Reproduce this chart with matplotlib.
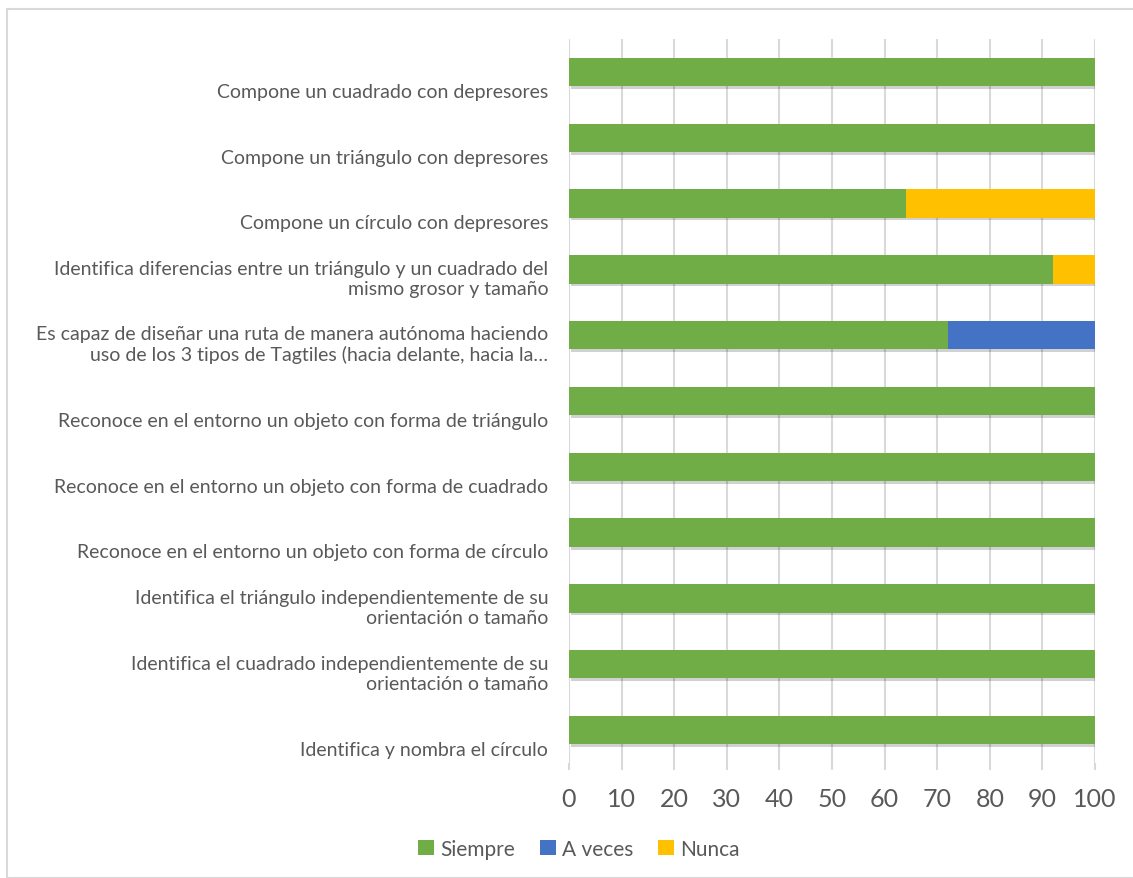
import numpy as np
import matplotlib
import matplotlib.pyplot as plt
from matplotlib import patheffects as pe
from matplotlib.patches import Rectangle

matplotlib.rcParams['font.family'] = ['Lato', 'DejaVu Sans']

categories = [
    "Compone un cuadrado con depresores",
    "Compone un triángulo con depresores",
    "Compone un círculo con depresores",
    "Identifica diferencias entre un triángulo y un cuadrado del\nmismo grosor y tamaño",
    "Es capaz de diseñar una ruta de manera autónoma haciendo\nuso de los 3 tipos de Tagtiles (hacia delante, hacia la…",
    "Reconoce en el entorno un objeto con forma de triángulo",
    "Reconoce en el entorno un objeto con forma de cuadrado",
    "Reconoce en el entorno un objeto con forma de círculo",
    "Identifica el triángulo independientemente de su\norientación o tamaño",
    "Identifica el cuadrado independientemente de su\norientación o tamaño",
    "Identifica y nombra el círculo",
]
siempre = [100, 100, 64, 92, 72, 100, 100, 100, 100, 100, 100]
a_veces = [0, 0, 0, 0, 28, 0, 0, 0, 0, 0, 0]
nunca = [0, 0, 36, 8, 0, 0, 0, 0, 0, 0, 0]
xticks = list(range(0, 101, 10))

text_col = '#595959'
grid_col = '#D9D9D9'

fig = plt.figure(figsize=(11.33, 8.79), dpi=100)
fig.patches.append(Rectangle((7/1133, 0), 1, 1 - 10/879, transform=fig.transFigure,
                             facecolor='none', edgecolor=grid_col, linewidth=1.5))
ax = fig.add_axes([569/1133, 1 - 764/879, (1095-569)/1133, (764-40)/879])

y = np.arange(len(categories))
shadow = [pe.SimplePatchShadow(offset=(1.5, -2), shadow_rgbFace='#000000', alpha=0.18), pe.Normal()]
h = 0.43
ax.barh(y, siempre, height=h, color='#70AD47', label='Siempre', path_effects=shadow, zorder=3)
ax.barh(y, a_veces, left=siempre, height=h, color='#4472C4', label='A veces', path_effects=shadow, zorder=3)
left2 = np.array(siempre) + np.array(a_veces)
ax.barh(y, nunca, left=left2, height=h, color='#FFC000', label='Nunca', path_effects=shadow, zorder=3)

ax.set_ylim(len(categories) - 0.5, -0.5)
ax.set_xlim(0, 100)
ax.set_yticks(y)
ax.set_yticklabels([])
ax.tick_params(axis='y', length=0)
# category labels sit bottom-aligned a bit below the bar centre, as in Excel
for yi, lab in zip(y, categories):
    ax.annotate(lab, xy=(0, yi), xycoords=('axes fraction', 'data'),
                xytext=(-15, -20), textcoords='offset points',
                ha='right', va='bottom', fontsize=14, color=text_col,
                linespacing=1.2, multialignment='right')
ax.set_xticks(xticks)
ax.set_xticklabels([str(v) for v in xticks], fontsize=18, color=text_col)
ax.tick_params(axis='x', length=5, width=1.5, color=grid_col, pad=12)
ax.grid(axis='x', color=grid_col, linewidth=1.5, zorder=0)
ax.set_axisbelow(True)
for s in ax.spines.values():
    s.set_visible(False)

handles, labels = ax.get_legend_handles_labels()
leg = fig.legend(handles, labels, loc='center', bbox_to_anchor=(579/1133, 1 - 850/879), ncol=3,
                 frameon=False, fontsize=15, handlelength=0.75, handleheight=0.75,
                 handletextpad=0.3, columnspacing=1.2)
for t in leg.get_texts():
    t.set_color(text_col)
for hd in leg.legend_handles:
    hd.set_path_effects([])

plt.savefig('out.png', dpi=100)
